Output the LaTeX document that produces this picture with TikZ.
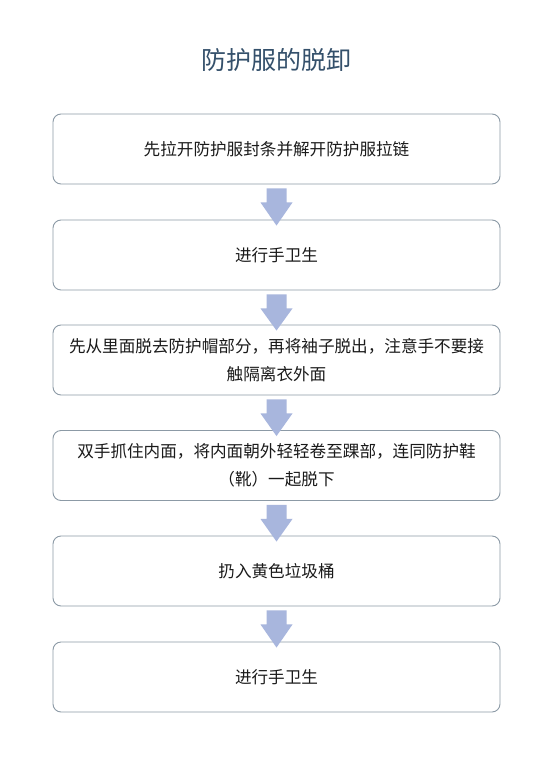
\documentclass[tikz,border=0pt]{standalone}
\usepackage{fontspec}
\setmainfont{Noto Sans CJK SC}
\usetikzlibrary{calc}
\definecolor{titlec}{HTML}{34506B}
\definecolor{boxline}{HTML}{8C9AA6}
\definecolor{arrowc}{HTML}{A8B6DD}
\definecolor{textc}{HTML}{1A1A1A}
\tikzset{
  x=1pt,y=1pt,
  stepbox/.style={draw=boxline, line width=0.9pt, rounded corners=8pt, fill=white,
    minimum width=447pt, minimum height=70pt, inner sep=0pt, align=center,
    text=textc, font=\fontsize{16.6pt}{28pt}\selectfont},
  titletext/.style={text=titlec, font=\fontsize{25pt}{30pt}\selectfont},
  blockarrow/.style={fill=arrowc, draw=none}
}
\begin{document}
\begin{tikzpicture}
\useasboundingbox[fill=white] (0,0) rectangle (553,-784);
\node[titletext] (title) at (276.5,-60) {防护服的脱卸};
\node[stepbox] (b1) at (276.5,-149) {先拉开防护服封条并解开防护服拉链};
\node[stepbox] (b2) at (276.5,-255) {进行手卫生};
\node[stepbox] (b3) at (276.5,-360) {先从里面脱去防护帽部分，再将袖子脱出，注意手不要接\\触隔离衣外面};
\node[stepbox] (b4) at (276.5,-465.5) {双手抓住内面，将内面朝外轻轻卷至踝部，连同防护鞋\\（靴）一起脱下};
\node[stepbox] (b5) at (276.5,-571) {扔入黄色垃圾桶};
\node[stepbox] (b6) at (276.5,-677) {进行手卫生};
\foreach \a/\b in {b1/b2,b2/b3,b3/b4,b4/b5,b5/b6}{
  \fill[blockarrow] ($(\a.south)+(-10,-4)$) -- ($(\a.south)+(10,-4)$)
    -- ($(\a.south)+(10,-18)$) -- ($(\a.south)+(16,-18)$)
    -- ($(\b.north)+(0,-6)$) -- ($(\a.south)+(-16,-18)$)
    -- ($(\a.south)+(-10,-18)$) -- cycle;
}
\end{tikzpicture}
\end{document}
